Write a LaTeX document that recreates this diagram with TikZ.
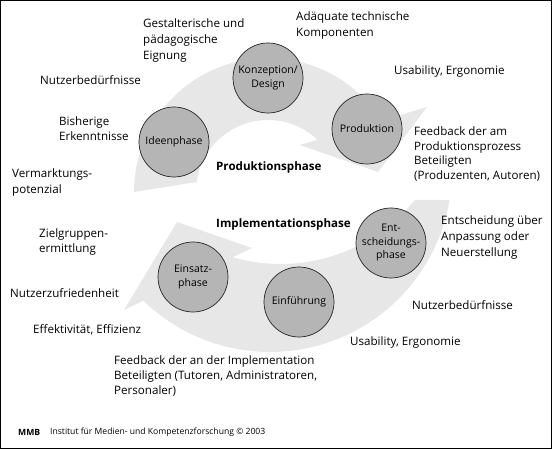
\documentclass[tikz,border=0pt]{standalone}
\usepackage{fontspec}
\setmainfont{Open Sans}
\definecolor{circgrey}{RGB}{181,181,181}
\definecolor{bandgrey}{RGB}{231,231,231}
\begin{document}
\begin{tikzpicture}[x=1pt,y=-1pt,
  phase/.style={circle, draw=black!85, line width=0.7pt, fill=circgrey, minimum size=70pt, inner sep=0pt, align=center, font=\fontsize{10.5}{13.5}\selectfont},
  lbl/.style={anchor=west, inner sep=0pt, text height=0.75em, text depth=0.25em, font=\fontsize{11.6}{15}\selectfont},
  headlbl/.style={lbl, font=\fontsize{11.6}{15}\selectfont\bfseries},
  foot/.style={anchor=west, inner sep=0pt, font=\fontsize{8.6}{10}\selectfont},
  band/.style={fill=bandgrey, draw=none}]
\useasboundingbox (0,0) rectangle (552,449);
% upper arrow (Produktionsphase)
\fill[band] plot[domain=180:327.8, samples=60] ({268+134*cos(\x)},{192+134*sin(\x)})
  -- (427,107) -- (378,172) -- (300,145) -- (317.5,139.8)
  -- plot[domain=313.5:188, samples=60] ({268+72*cos(\x)},{192+72*sin(\x)}) -- cycle;
% lower arrow (Implementationsphase)
\fill[band] plot[domain=9.5:134.1, samples=60] ({270+182*cos(\x)},{170+182*sin(\x)})
  -- (124,310) -- (177,222) -- (252,248) -- (233,257)
  -- plot[domain=106:39, samples=60] ({280.5+173*cos(\x)},{91+173*sin(\x)}) -- cycle;
% phases
\node[phase] (konz) at (268,78) {Konzeption/\\Design};
\node[phase] (idee) at (174,142) {Ideenphase};
\node[phase] (prod) at (367,129) {Produktion};
\node[phase] (ents) at (391,243) {Ent-\\scheidungs-\\phase};
\node[phase] (eins) at (193,277) {Einsatz-\\phase};
\node[phase] (einf) at (299,302) {Einführung};
% headings
\node[headlbl] (hprod) at (216,168) {Produktionsphase};
\node[headlbl] (himpl) at (216,225) {Implementationsphase};
% labels upper
\node[lbl] (g1) at (143,25) {Gestalterische und};
\node[lbl] (g2) at (143,41) {pädagogische};
\node[lbl] (g3) at (143,57) {Eignung};
\node[lbl] (a1) at (296,18) {Adäquate technische};
\node[lbl] (a2) at (296,34) {Komponenten};
\node[lbl] (n1) at (40,82) {Nutzerbedürfnisse};
\node[lbl] (u1) at (394,72) {Usability, Ergonomie};
\node[lbl] (b1) at (59,123) {Bisherige};
\node[lbl] (b2) at (59,138) {Erkenntnisse};
\node[lbl] (v1) at (12,175) {Vermarktungs-};
\node[lbl] (v2) at (12,191) {potenzial};
\node[lbl] (f1) at (414,133) {Feedback der am};
\node[lbl] (f2) at (414,148) {Produktionsprozess};
\node[lbl] (f3) at (414,162) {Beteiligten};
\node[lbl] (f4) at (414,177) {(Produzenten, Autoren)};
% labels lower
\node[lbl] (e1) at (441,222) {Entscheidung über};
\node[lbl] (e2) at (441,238) {Anpassung oder};
\node[lbl] (e3) at (441,254) {Neuerstellung};
\node[lbl] (z1) at (39,235) {Zielgruppen-};
\node[lbl] (z2) at (39,250) {ermittlung};
\node[lbl] (nz) at (10,295) {Nutzerzufriedenheit};
\node[lbl] (ef) at (33,331) {Effektivität, Effizienz};
\node[lbl] (n2) at (412,307) {Nutzerbedürfnisse};
\node[lbl] (u2) at (350,343) {Usability, Ergonomie};
\node[lbl] (i1) at (114,362) {Feedback der an der Implementation};
\node[lbl] (i2) at (114,377) {Beteiligten (Tutoren, Administratoren,};
\node[lbl] (i3) at (114,392) {Personaler)};
% footer
\node[foot, font=\fontsize{8.6}{10}\selectfont\bfseries] (mmb) at (18,432) {MMB};
\node[foot] (inst) at (50,432) {Institut für Medien- und Kompetenzforschung © 2003};
% frame
\draw[line width=1pt] (0.5,0.5) rectangle (551.5,448.5);
\end{tikzpicture}
\end{document}
